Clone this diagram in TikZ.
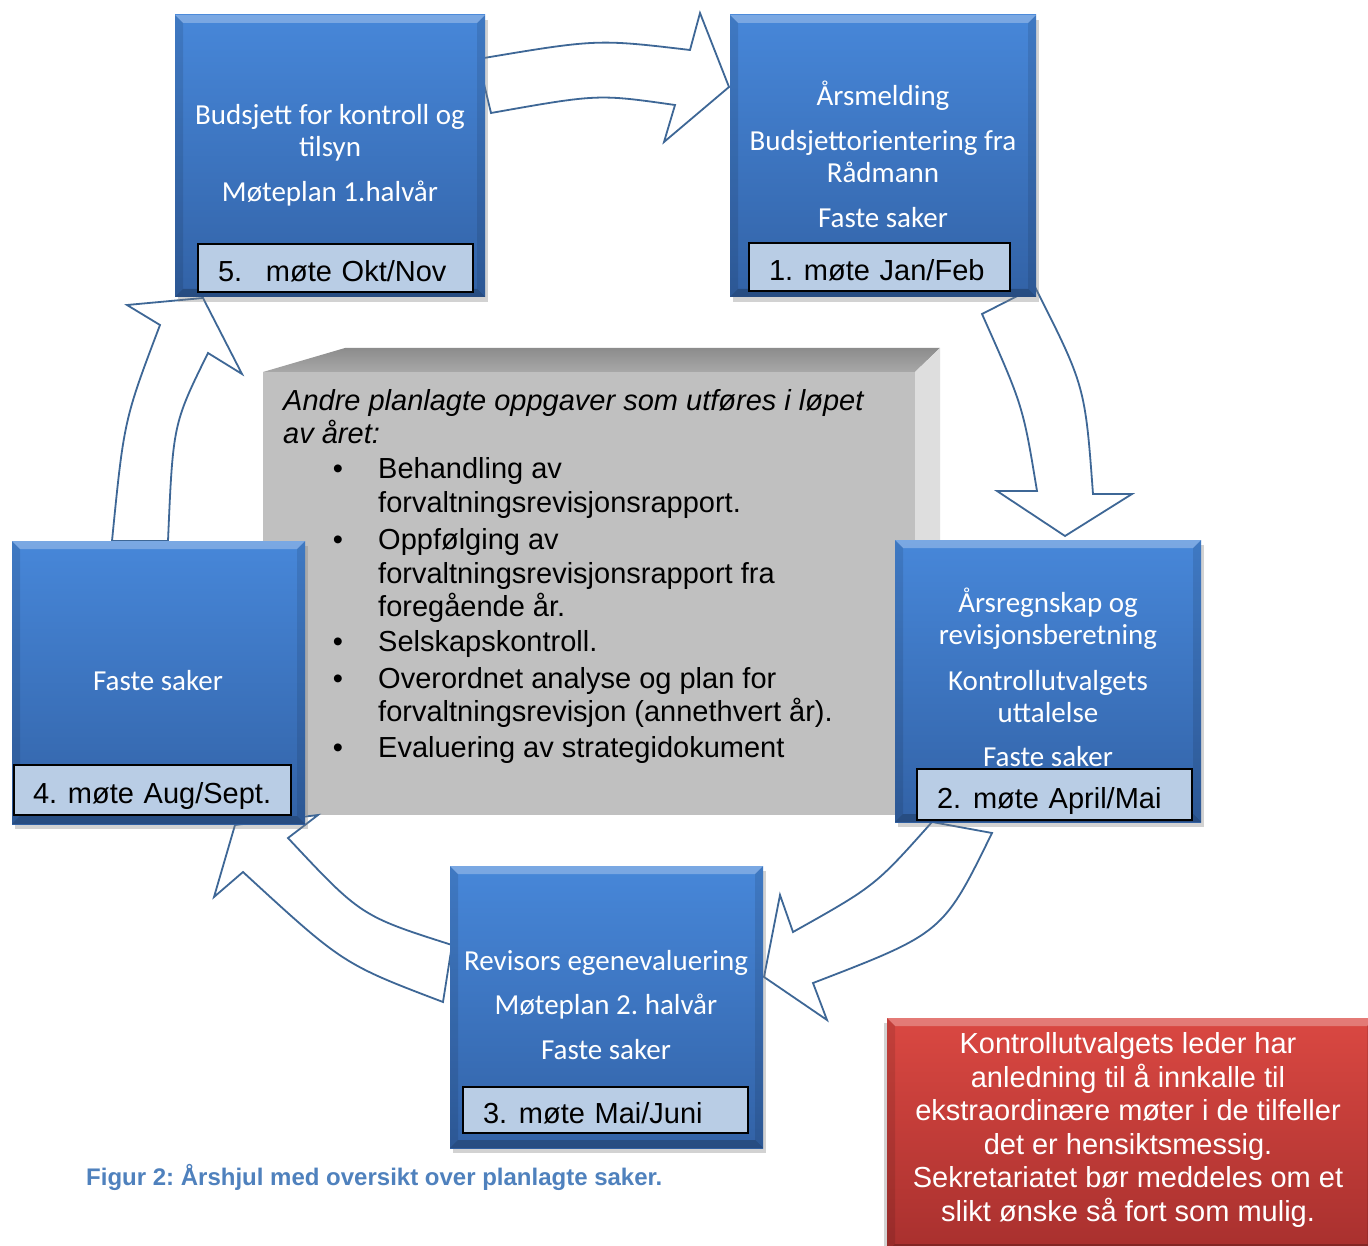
\documentclass[tikz,border=0pt]{standalone}
\usepackage{fontspec}
\setmainfont{Liberation Sans}
\newfontfamily\calib{Carlito}
\usetikzlibrary{shadows}
\frenchspacing
\definecolor{boxTop}{HTML}{4787D9}
\definecolor{boxBot}{HTML}{3262A6}
\definecolor{arrowLine}{HTML}{3E6796}
\definecolor{labFill}{HTML}{B9CDE5}
\definecolor{grayFront}{HTML}{C0C0C0}
\definecolor{grayTopA}{HTML}{8C8C8C}
\definecolor{grayTopB}{HTML}{A8A8A8}
\definecolor{graySide}{HTML}{DEDEDE}
\definecolor{redTop}{HTML}{DA4842}
\definecolor{redBot}{HTML}{A8302E}
\definecolor{capBlue}{HTML}{4F81BD}
\newcommand\calibfont{\calib\fontsize{29}{32}\selectfont}
\newcommand\labfont{\fontsize{29}{34}\selectfont}
\newcommand\grayfont{\fontsize{29}{34}\selectfont}
\newcommand\redfont{\fontsize{29}{33.6}\selectfont}
\newcommand\BoxBevel[1]{%
  \fill[white,opacity=0.28] (#1.north west) -- (#1.north east) -- ([shift={(-8,8)}]#1.north east) -- ([shift={(8,8)}]#1.north west) -- cycle;
  \fill[black,opacity=0.22] (#1.south west) -- (#1.south east) -- ([shift={(-8,-8)}]#1.south east) -- ([shift={(8,-8)}]#1.south west) -- cycle;
  \fill[black,opacity=0.10] (#1.north west) -- ([shift={(8,8)}]#1.north west) -- ([shift={(8,-8)}]#1.south west) -- (#1.south west) -- cycle;
  \fill[black,opacity=0.10] (#1.north east) -- ([shift={(-8,8)}]#1.north east) -- ([shift={(-8,-8)}]#1.south east) -- (#1.south east) -- cycle;
}
\begin{document}
\begin{tikzpicture}[x=1pt,y=-1pt,
  bluebox/.style={rectangle, inner sep=0pt, outer sep=0pt, top color=boxTop, bottom color=boxBot,
    drop shadow={shadow xshift=3pt, shadow yshift=-5pt, opacity=0.35}},
  redbox/.style={rectangle, inner sep=0pt, outer sep=0pt, top color=redTop, bottom color=redBot,
    drop shadow={shadow xshift=-3pt, shadow yshift=-5pt, opacity=0.35}},
  labbox/.style={draw=black, line width=1.5pt, fill=labFill, inner xsep=20pt, inner ysep=0pt,
    outer sep=0pt, text height=27pt, text depth=0pt, align=left, font=\labfont, anchor=north west},
  boxtext/.style={text=white, align=center, font=\calibfont, inner sep=0pt},
  gtext/.style={anchor=base west, inner sep=0pt, font=\grayfont},
  blockarrow/.style={draw=arrowLine, line width=1.8pt, fill=white, line join=miter},
]
\clip (0,0) rectangle (1368,1246);
\fill[white] (0,0) rectangle (1368,1246);

% central grey block
\shade[top color=grayTopA, bottom color=grayTopB] (263,372) -- (345,348) -- (940,348) -- (915,372) -- cycle;
\fill[graySide] (915,372) -- (940,348) -- (940,795) -- (915,815) -- cycle;
\node[rectangle, fill=grayFront, inner sep=0pt, outer sep=0pt, minimum width=652pt, minimum height=443pt] (gb) at (589,593.5) {};

\node[gtext, font=\itshape\grayfont] (g1) at (283,410) {Andre planlagte oppgaver som utføres i løpet};
\node[gtext, font=\itshape\grayfont] (g2) at (283,443) {av året:};
\foreach \yy/\txt [count=\i] in {478/Behandling av, 512/forvaltningsrevisjonsrapport., 549/Oppfølging av, 583/forvaltningsrevisjonsrapport fra, 616/foregående år., 651/Selskapskontroll., 688/Overordnet analyse og plan for, 721/forvaltningsrevisjon (annethvert år)., 757/Evaluering av strategidokument}
  \node[gtext] (it\i) at (378,\yy) {\txt};
\foreach \yy [count=\i] in {478,549,651,688,757}
  \node[gtext, anchor=base] (bu\i) at (338,\yy) {\textbullet};

% block arrows
\path[blockarrow] (478,59) .. controls (597,39) .. (690,50) -- (700,13) -- (729,87) -- (664,142) -- (675,105) .. controls (598,94) .. (491,113) -- cycle;
\path[blockarrow] (1035,287) .. controls (1085,386) .. (1093,494) -- (1132,494) -- (1065,536) -- (997,491) -- (1037,491) .. controls (1023,406) .. (982,314) -- cycle;
\path[blockarrow] (932,822) -- (992,833) .. controls (943,933) .. (813,983) -- (827,1020) -- (764,977) -- (780,895) -- (793,932) .. controls (875,886) .. (932,822) -- cycle;
\path[blockarrow] (452,945) -- (443,1002) .. controls (343,964) .. (243,872) -- (214,897) -- (235,825) -- (318,815) -- (288,838) .. controls (361,916) .. (452,945) -- cycle;
\path[blockarrow] (168,541) -- (112,541) .. controls (124,420) .. (160,325) -- (127,305) -- (203,298) -- (242,374) -- (208,353) .. controls (173,424) .. (168,541) -- cycle;

% blue meeting boxes
\node[bluebox, minimum width=310pt, minimum height=282pt] (b5) at (330,156) {};
\BoxBevel{b5}
\node[bluebox, minimum width=306pt, minimum height=282pt] (b1) at (883,156) {};
\BoxBevel{b1}
\node[bluebox, minimum width=306pt, minimum height=282pt] (b2) at (1048,681) {};
\BoxBevel{b2}
\node[bluebox, minimum width=313pt, minimum height=282pt] (b3) at (606.5,1007) {};
\BoxBevel{b3}
\node[bluebox, minimum width=293pt, minimum height=283pt] (b4) at (158.5,682.5) {};
\BoxBevel{b4}

\node[boxtext] (t5) at (330,155) {Budsjett for kontroll og\\tilsyn\\[13pt]Møteplan 1.halvår};
\node[boxtext] (t1) at (883,154) {Årsmelding\\[13pt]Budsjettorientering fra\\Rådmann\\[13pt]Faste saker};
\node[boxtext] (t2) at (1048,677) {Årsregnskap og\\revisjonsberetning\\[14pt]Kontrollutvalgets\\uttalelse\\[12pt]Faste saker};
\node[boxtext] (t3) at (606,1005.5) {Revisors egenevaluering\\[12pt]Møteplan 2. halvår\\[13pt]Faste saker};
\node[boxtext] (t4) at (158,681) {Faste saker};

% date labels
\node[labbox, text width=235pt, minimum height=48pt] (l5) at (198,244) {\mbox{\makebox[48pt][l]{5.}møte Okt/Nov}};
\node[labbox, text width=221pt, minimum height=48pt] (l1) at (749,243) {\mbox{\makebox[35pt][l]{1.}møte Jan/Feb}};
\node[labbox, text width=235pt, minimum height=51pt] (l2) at (917,769) {\mbox{\makebox[36pt][l]{2.}møte April/Mai}};
\node[labbox, text width=245pt, minimum height=46pt] (l3) at (463,1087) {\mbox{\makebox[36pt][l]{3.}møte Mai/Juni}};
\node[labbox, text width=237pt, minimum height=50pt, inner xsep=19pt, text width=239pt] (l4) at (14,765) {\mbox{\makebox[35pt][l]{4.}møte Aug/Sept.}};

% red note
\node[redbox, minimum width=488pt, minimum height=234pt] (rb) at (1131,1135) {};
\BoxBevel{rb}
\node[text=white, align=center, font=\redfont, inner sep=0pt] (rt) at (1128,1130) {Kontrollutvalgets leder har\\anledning til å innkalle til\\ekstraordinære møter i de tilfeller\\det er hensiktsmessig.\\Sekretariatet bør meddeles om et\\slikt ønske så fort som mulig.};

% caption
\node[anchor=base west, inner sep=0pt, font=\bfseries\fontsize{24}{28}\selectfont, text=capBlue] (cap) at (86,1185) {Figur 2: Årshjul med oversikt over planlagte saker.};
\end{tikzpicture}
\end{document}
